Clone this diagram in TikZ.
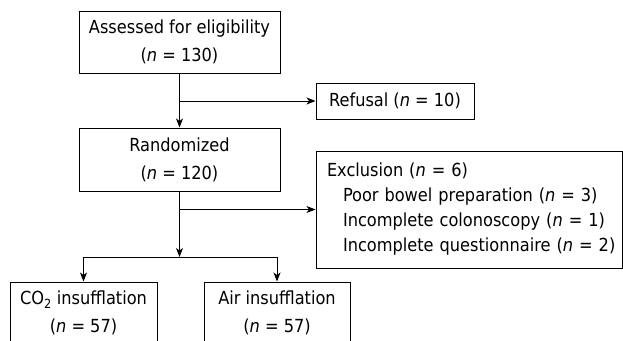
\documentclass[tikz,border=0pt]{standalone}
\usepackage{fontspec}
\setmainfont{DejaVu Sans Condensed}
\usetikzlibrary{shapes,arrows.meta,positioning,calc}
\tikzset{
  box/.style={rectangle, draw, line width=1pt, align=center, font=\fontsize{18}{28}\selectfont},
  flow/.style={-{Stealth[length=9pt,width=7pt,inset=2.5pt]}, line width=1pt}
}

\begin{document}
\begin{tikzpicture}[x=1pt,y=-1pt]
\clip (0,0) rectangle (623,340);
\useasboundingbox (0,0) rectangle (623,340);

\node[box, minimum width=201pt, minimum height=62pt] (elig) at (179.5,42) {Assessed for eligibility\\(\textit{n} = 130)};
\node[box, minimum width=158pt, minimum height=36pt] (refusal) at (395,101) {Refusal (\textit{n} = 10)};
\node[box, minimum width=201pt, minimum height=63pt] (rand) at (179.5,159.5) {Randomized\\(\textit{n} = 120)};
\node[box, align=left, text width=296pt, inner xsep=5pt, minimum height=117pt, font=\fontsize{18}{25}\selectfont] (excl) at (469,209.5)
  {\hspace*{6pt}Exclusion (\textit{n} = 6)\\\hspace*{22pt}Poor bowel preparation (\textit{n} = 3)\\\hspace*{22pt}Incomplete colonoscopy (\textit{n} = 1)\\\hspace*{22pt}Incomplete questionnaire (\textit{n} = 2)};
\node[box, minimum width=147pt, minimum height=62pt] (co2) at (83.5,313) {CO\textsubscript{2} insufflation\\(\textit{n} = 57)};
\node[box, minimum width=146pt, minimum height=62pt] (air) at (277,313) {Air insufflation\\(\textit{n} = 57)};

\coordinate (b1) at (elig.south |- refusal.west);
\coordinate (b2) at (rand.south |- excl.west);
\coordinate (split) at (179.5,257);

\draw[flow] (elig) -- (rand);
\draw[flow] (b1) -- (refusal);
\draw[flow] (b2) -- (excl);
\draw[flow] (rand) -- (split);
\draw[flow] (split) -| (co2);
\draw[flow] (split) -| (air);
\end{tikzpicture}
\end{document}
